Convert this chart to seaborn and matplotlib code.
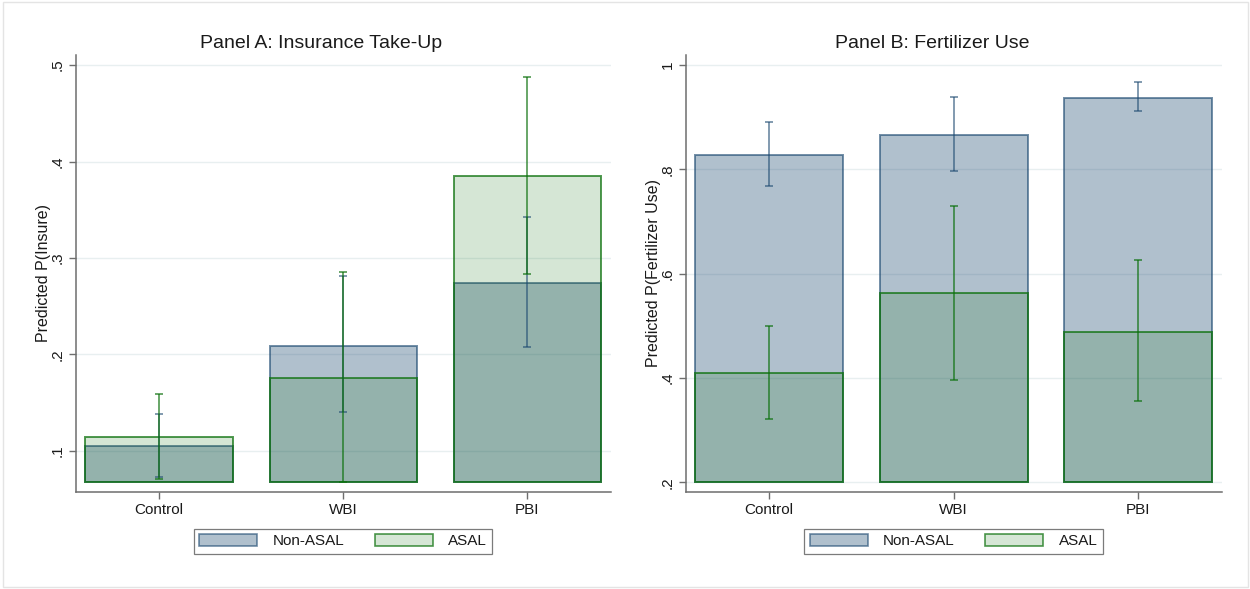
import numpy as np
import pandas as pd
import matplotlib
matplotlib.use("Agg")
import matplotlib.pyplot as plt
import seaborn as sns
from matplotlib.patches import Patch, Rectangle

# ---- data -------------------------------------------------------------
treatments = ["Control", "WBI", "PBI"]
groups = ["Non-ASAL", "ASAL"]

# Panel A: predicted probability of insurance take-up
insure_non_asal = [0.105, 0.209, 0.274]
insure_non_asal_lo = [0.073, 0.140, 0.208]
insure_non_asal_hi = [0.138, 0.281, 0.342]
insure_asal = [0.114, 0.176, 0.385]
insure_asal_lo = [0.071, 0.068, 0.283]
insure_asal_hi = [0.159, 0.286, 0.488]

# Panel B: predicted probability of fertilizer use
fert_non_asal = [0.827, 0.866, 0.936]
fert_non_asal_lo = [0.767, 0.796, 0.911]
fert_non_asal_hi = [0.890, 0.939, 0.967]
fert_asal = [0.410, 0.562, 0.489]
fert_asal_lo = [0.322, 0.397, 0.355]
fert_asal_hi = [0.499, 0.730, 0.626]

insure_ticks = [0.1, 0.2, 0.3, 0.4, 0.5]
insure_tick_labels = [".1", ".2", ".3", ".4", ".5"]
fert_ticks = [0.2, 0.4, 0.6, 0.8, 1.0]
fert_tick_labels = [".2", ".4", ".6", ".8", "1"]

insure_base = 0.068
fert_base = 0.2

# ---- style ------------------------------------------------------------
sns.set_theme(style="white")
plt.rcParams["font.family"] = ["Liberation Sans", "DejaVu Sans"]
TEXT = "#1a1a1a"
AXIS = "#6e6e6e"
GRID = "#e8eff0"

NAVY = np.array([26, 71, 111]) / 255
GREEN = np.array([10, 112, 10]) / 255
styles = {
    "Non-ASAL": dict(fill=(*NAVY, 0.34), edge=(*NAVY, 0.62), err=(*NAVY, 0.55)),
    "ASAL": dict(fill=(*GREEN, 0.17), edge=(*GREEN, 0.72), err=(*GREEN, 0.62)),
}


def draw_panel(ax, series, base, ylim, ticks, tick_labels, ylabel):
    for grp in groups:
        vals, lo, hi = series[grp]
        df = pd.DataFrame({"treatment": treatments, "value": vals})
        df["height"] = df["value"] - base
        st = styles[grp]
        sns.barplot(data=df, x="treatment", y="height", order=treatments,
                    bottom=base, width=0.8, color=st["fill"][:3], saturation=1,
                    errorbar=None, ax=ax, zorder=2)
        for patch in ax.containers[-1]:
            patch.set_facecolor(st["fill"])
            patch.set_edgecolor(st["edge"])
            patch.set_linewidth(1.4)

    for grp in groups:
        vals, lo, hi = series[grp]
        vals, lo, hi = map(np.asarray, (vals, lo, hi))
        ax.errorbar(np.arange(len(treatments)), vals, yerr=[vals - lo, hi - vals],
                    fmt="none", ecolor=styles[grp]["err"], elinewidth=1.4,
                    capsize=3, capthick=1.4, zorder=3)

    ax.set_xlim(-0.452, 2.452)
    ax.set_ylim(*ylim)
    ax.set_yticks(ticks)
    ax.set_yticklabels(tick_labels, rotation=90, va="center", fontsize=11, color=TEXT)
    ax.set_xticks(range(len(treatments)))
    ax.set_xticklabels(treatments, fontsize=11, color=TEXT)
    ax.set_xlabel("")
    ax.set_ylabel(ylabel, fontsize=11.5, color=TEXT, labelpad=0)
    ax.yaxis.grid(True, color=GRID, lw=1.0, zorder=0)
    ax.xaxis.grid(False)
    ax.set_axisbelow(True)
    for side in ("top", "right"):
        ax.spines[side].set_visible(False)
    for side in ("left", "bottom"):
        ax.spines[side].set_color(AXIS)
        ax.spines[side].set_linewidth(1.1)
    ax.tick_params(axis="both", which="major", length=5, width=1.0, color=AXIS,
                   bottom=True, left=True, pad=3)

    handles = [Patch(facecolor=styles[g]["fill"], edgecolor=styles[g]["edge"],
                     linewidth=1.2, label=g) for g in groups]
    leg = ax.legend(handles=handles, loc="center", bbox_to_anchor=(0.5, -0.113),
                    ncol=2, frameon=True, fancybox=False, fontsize=11,
                    handlelength=3.8, handleheight=0.85, handletextpad=1.0,
                    columnspacing=2.0, borderpad=0.35, borderaxespad=0)
    leg.get_frame().set_edgecolor("#5a5a5a")
    leg.get_frame().set_linewidth(0.9)
    for t in leg.get_texts():
        t.set_color(TEXT)


fig = plt.figure(figsize=(12.5, 5.89), dpi=100)
fig.patch.set_facecolor("white")

ax_a = fig.add_axes([75.7 / 1250, 1 - 491.7 / 589, 535 / 1250, 436.7 / 589])
ax_b = fig.add_axes([685.7 / 1250, 1 - 491.7 / 589, 536 / 1250, 436.7 / 589])

draw_panel(ax_a,
           {"Non-ASAL": (insure_non_asal, insure_non_asal_lo, insure_non_asal_hi),
            "ASAL": (insure_asal, insure_asal_lo, insure_asal_hi)},
           insure_base, (0.0578, 0.5104), insure_ticks, insure_tick_labels,
           "Predicted P(Insure)")
draw_panel(ax_b,
           {"Non-ASAL": (fert_non_asal, fert_non_asal_lo, fert_non_asal_hi),
            "ASAL": (fert_asal, fert_asal_lo, fert_asal_hi)},
           fert_base, (0.182, 1.019), fert_ticks, fert_tick_labels,
           "Predicted P(Fertilizer Use)")

fig.text(321 / 1250, 1 - 43 / 589, "Panel A: Insurance Take-Up", ha="center",
         va="center", fontsize=14, color=TEXT)
fig.text(932 / 1250, 1 - 43 / 589, "Panel B: Fertilizer Use", ha="center",
         va="center", fontsize=14, color=TEXT)

fig.patches.append(Rectangle((0.002, 0.004), 0.996, 0.992, transform=fig.transFigure,
                             fill=False, edgecolor="#e4e4e4", linewidth=1.0))

fig.savefig("out.png", dpi=100, facecolor="white")
